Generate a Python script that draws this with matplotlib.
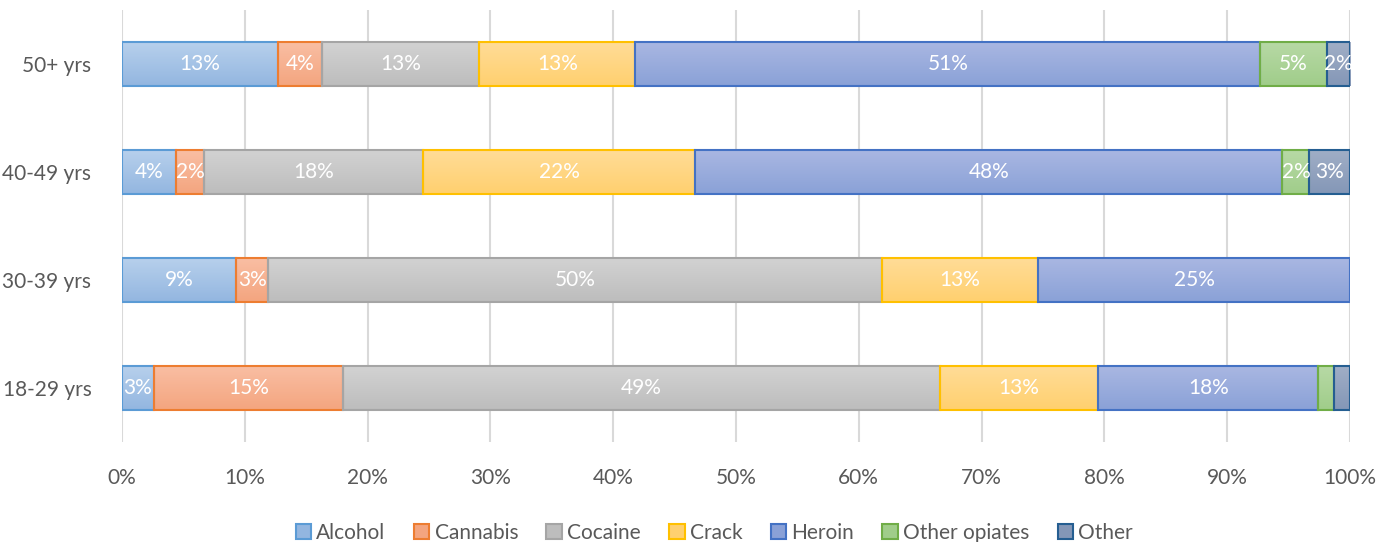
import numpy as np
import matplotlib.pyplot as plt
from matplotlib.patches import Patch
from matplotlib.colors import LinearSegmentedColormap

# age groups, bottom to top as drawn
groups = ["18-29 yrs", "30-39 yrs", "40-49 yrs", "50+ yrs"]
drugs = ["Alcohol", "Cannabis", "Cocaine", "Crack", "Heroin", "Other opiates", "Other"]

# share of each drug per age group (%)
alcohol = [2.6, 9.3, 4.4, 12.7]
cannabis = [15.4, 2.6, 2.3, 3.6]
cocaine = [48.6, 50.0, 17.8, 12.8]
crack = [12.9, 12.7, 22.2, 12.7]
heroin = [17.9, 25.4, 47.8, 50.9]
other_opiates = [1.3, 0.0, 2.2, 5.4]
other = [1.3, 0.0, 3.3, 1.9]

series = [alcohol, cannabis, cocaine, crack, heroin, other_opiates, other]

# (top colour, bottom colour, edge colour) - Excel style gradient fills
styles = [
    ("#b7d0ec", "#93b6e0", "#5b9bd5"),
    ("#f9bea3", "#f4a57f", "#ed7d31"),
    ("#d2d2d2", "#bdbdbd", "#a5a5a5"),
    ("#ffdc97", "#ffd06f", "#ffc000"),
    ("#a9b7e2", "#8aa1d7", "#4472c4"),
    ("#b7d9a5", "#a0cd8a", "#70ad47"),
    ("#a0aec6", "#8497b7", "#255e91"),
]

plt.rcParams['font.family'] = ['Lato', 'DejaVu Sans']
fs = 15

fig = plt.figure(figsize=(13.79, 5.42), dpi=100)
ax = fig.add_axes([122/1379, 1 - 442/542, 1228/1379, 432/542])

y = np.arange(len(groups))
height = 0.407
left = np.zeros(len(groups))
grad = np.linspace(0, 1, 64).reshape(-1, 1)

for vals, (ctop, cbot, cedge) in zip(series, styles):
    vals = np.array(vals)
    bars = ax.barh(y, vals, left=left, height=height, color="none",
                   edgecolor=cedge, linewidth=1.5, zorder=3)
    cmap = LinearSegmentedColormap.from_list("g", [ctop, cbot])
    for b, v, l in zip(bars, vals, left):
        if v <= 0:
            b.set_visible(False)
            continue
        x0, y0 = b.get_x(), b.get_y()
        im = ax.imshow(grad, cmap=cmap, aspect="auto", origin="lower",
                       extent=(x0, x0 + v, y0 + height, y0), zorder=2.9,
                       interpolation="bilinear")
        im.set_clip_path(b)
        if v >= 1.5:
            ax.text(l + v / 2, y0 + height / 2, f"{v:.0f}%",
                    ha="center", va="center", color="white", fontsize=fs,
                    zorder=4)
    left += vals

ax.set_xlim(0, 100)
ax.set_ylim(-0.5, len(groups) - 0.5)
ax.set_xticks(np.arange(0, 101, 10))
ax.set_xticklabels([f"{t}%" for t in range(0, 101, 10)])
ax.set_yticks(y)
ax.set_yticklabels(groups)
ax.grid(axis="x", color="#d9d9d9", linewidth=1.5, zorder=0)
ax.set_axisbelow(True)
for s in ax.spines.values():
    s.set_visible(False)
ax.tick_params(length=0, labelsize=fs, labelcolor="#595959")
ax.tick_params(axis="x", pad=19)
ax.tick_params(axis="y", pad=22)

handles = [Patch(facecolor=c[1], edgecolor=c[2], linewidth=1.5) for c in styles]
fig.legend(handles, drugs, loc="lower center", ncol=7, frameon=False,
           bbox_to_anchor=(0.518, -0.036), fontsize=fs, handlelength=0.75,
           handleheight=0.75, handletextpad=0.25, columnspacing=1.35,
           labelcolor="#595959")

fig.savefig("out.png", dpi=100)
